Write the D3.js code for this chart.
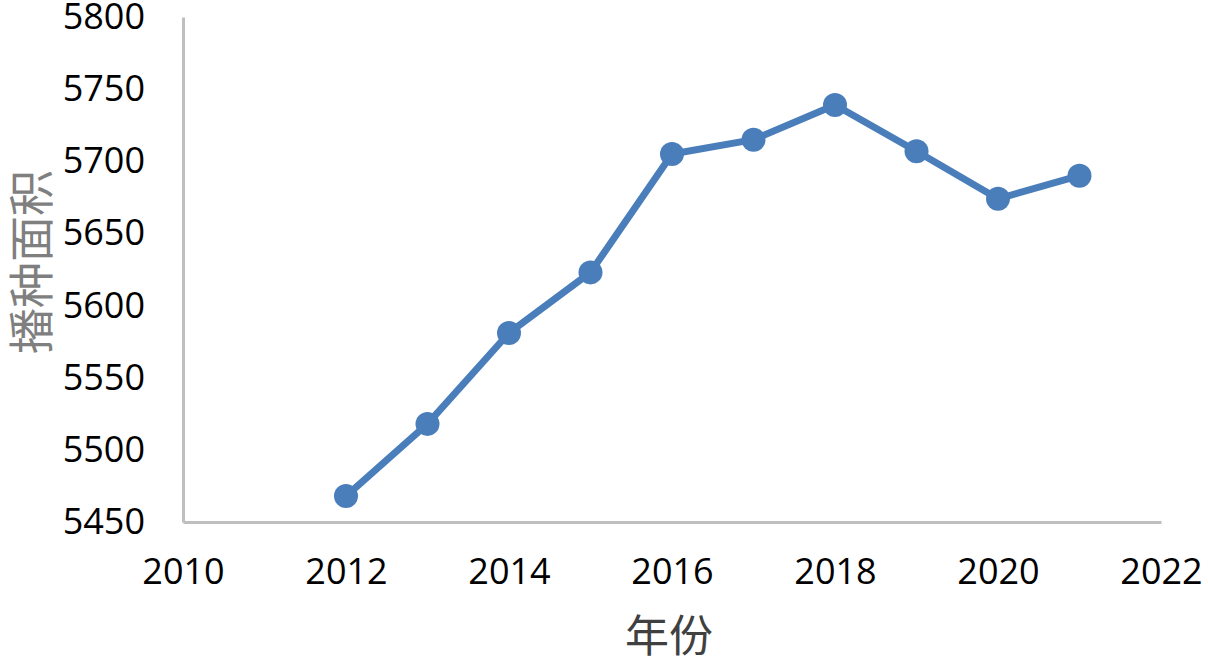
<!doctype html>
<html>
  <head>
    <meta charset="utf-8">
    <title>播种面积</title>
    <script src="https://d3js.org/d3.v7.min.js"></script>
    <style>
      body { margin: 0; background: #fff; }
      .tick text { font-family: "Open Sans", sans-serif; font-size: 36px; fill: #000; }
      .title { font-family: "Noto Sans CJK SC", sans-serif; }
    </style>
  </head>
  <body>
    <svg width="1208" height="664"></svg>
    <script>
      var years = [2012, 2013, 2014, 2015, 2016, 2017, 2018, 2019, 2020, 2021];
      var area = [5468, 5518, 5581, 5623, 5705, 5715, 5739, 5707, 5674, 5690];
      var xTicks = [2010, 2012, 2014, 2016, 2018, 2020, 2022];
      var yTicks = [5450, 5500, 5550, 5600, 5650, 5700, 5750, 5800];

      var data = years.map((yr, i) => ({ year: yr, value: area[i] }));

      var svg = d3.select("svg");
      var plotL = 183, plotR = 1161, plotT = 17, plotB = 522;

      var x = d3.scaleLinear().domain([2010, 2022]).range([plotL, plotR]);
      var y = d3.scaleLinear().domain([5450, 5800]).range([plotB, plotT]);

      // y axis
      var gy = svg.append("g")
        .attr("transform", "translate(" + plotL + ",0)")
        .call(d3.axisLeft(y).tickValues(yTicks).tickSize(0).tickPadding(38).tickFormat(d3.format("d")));
      gy.select(".domain").attr("stroke", "#bfbfbf").attr("stroke-width", 3);

      // x axis
      var gx = svg.append("g")
        .attr("transform", "translate(0," + plotB + ")")
        .call(d3.axisBottom(x).tickValues(xTicks).tickSize(0).tickPadding(36).tickFormat(d3.format("d")));
      gx.select(".domain").attr("stroke", "#bfbfbf").attr("stroke-width", 3);

      var line = d3.line().x(d => x(d.year)).y(d => y(d.value));

      svg.append("path")
        .datum(data)
        .attr("fill", "none")
        .attr("stroke", "#4a7ebb")
        .attr("stroke-width", 7)
        .attr("stroke-linejoin", "round")
        .attr("d", line);

      svg.selectAll("circle.pt").data(data)
        .enter()
        .append("circle")
          .attr("class", "pt")
          .attr("cx", d => x(d.year))
          .attr("cy", d => y(d.value))
          .attr("r", 12)
          .attr("fill", "#4a7ebb");

      svg.append("text")
        .attr("class", "title")
        .attr("transform", "translate(48,262) rotate(-90)")
        .attr("text-anchor", "middle")
        .attr("font-size", 46)
        .attr("fill", "#7f7f7f")
        .text("播种面积");

      svg.append("text")
        .attr("class", "title")
        .attr("x", 669)
        .attr("y", 652)
        .attr("text-anchor", "middle")
        .attr("font-size", 44)
        .attr("fill", "#404040")
        .text("年份");
    </script>
  </body>
</html>
